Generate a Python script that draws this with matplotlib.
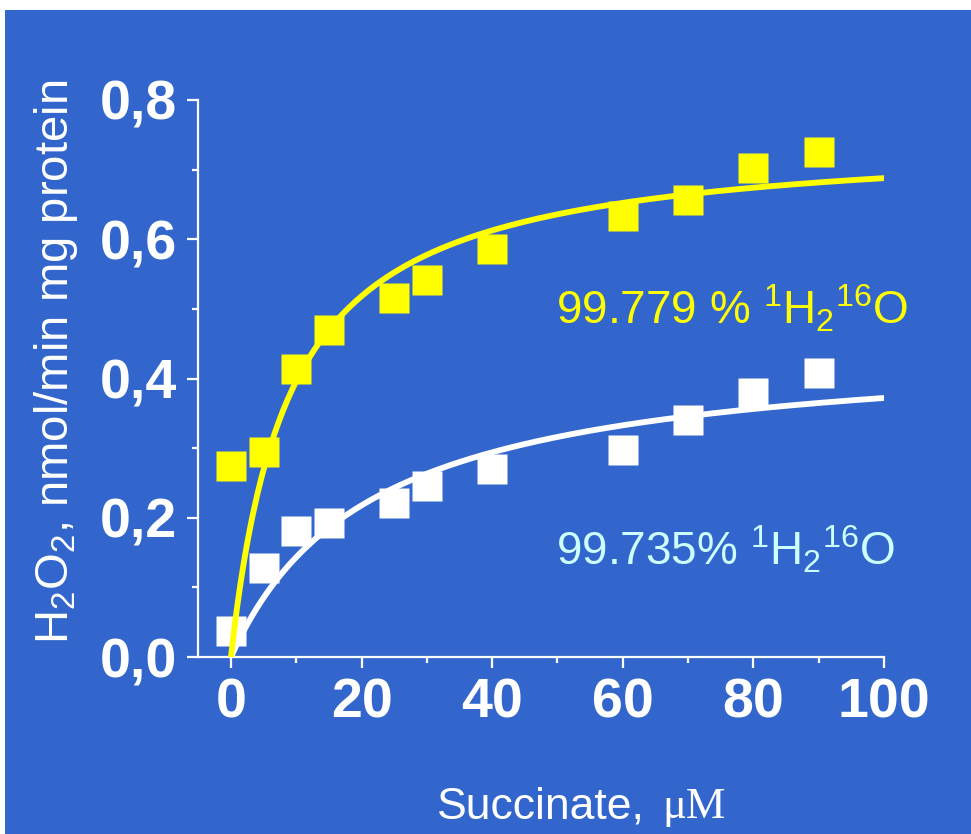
import numpy as np
import matplotlib
matplotlib.use("Agg")
import matplotlib.pyplot as plt
from matplotlib.patches import Rectangle

# Datos
succinate = [0, 5, 10, 15, 25, 30, 40, 60, 70, 80, 90]
h2o2_yellow = [0.275, 0.294, 0.414, 0.470, 0.516, 0.542, 0.586, 0.634, 0.656, 0.702, 0.725]
h2o2_white = [0.037, 0.128, 0.181, 0.193, 0.221, 0.246, 0.270, 0.297, 0.340, 0.379, 0.408]

# Parametros de ajuste Michaelis-Menten (Vmax, Km) estimados de las curvas
fit_yellow = (0.749, 8.9)
fit_white = (0.452, 21.5)

label_yellow = r"99.779 % $\mathregular{^{1}H_{2}{}^{16}O}$"
label_white = r"99.735% $\mathregular{^{1}H_{2}{}^{16}O}$"

BLUE = "#3366CC"
YELLOW = "#FFFF00"
CYAN = "#CCFFFF"

plt.rcParams["font.family"] = ["Liberation Sans", "DejaVu Sans"]
plt.rcParams["mathtext.fontset"] = "custom"
plt.rcParams["mathtext.rm"] = "Liberation Sans"

W, H = 971, 834
fig = plt.figure(figsize=(W / 100, H / 100), dpi=100, facecolor="white")

# Fondo azul con margen blanco arriba e izquierda
bg = Rectangle((5 / W, 0), 1, 1 - 10 / H, transform=fig.transFigure,
               facecolor=BLUE, edgecolor="none", zorder=-10)
fig.add_artist(bg)

ax = fig.add_axes([198 / W, 1 - 657 / H, (884 - 198) / W, (657 - 100) / H])
ax.set_facecolor("none")
ax.set_zorder(1)

x_fit = np.linspace(0, 100, 300)

def mm(x, vmax, km):
    return vmax * x / (km + x)

# Serie blanca
ax.plot(succinate, h2o2_white, "s", color="white", ms=21, mec="none", zorder=2)
ax.plot(x_fit, mm(x_fit, *fit_white), color="white", lw=4.2, zorder=3)

# Serie amarilla
ax.plot(succinate, h2o2_yellow, "s", color=YELLOW, ms=21, mec="none", zorder=4)
ax.plot(x_fit, mm(x_fit, *fit_yellow), color=YELLOW, lw=4.2, zorder=5)

ax.set_xlim(-5.05, 100)
ax.set_ylim(0, 0.8)

for s in ["top", "right"]:
    ax.spines[s].set_visible(False)
for s in ["left", "bottom"]:
    ax.spines[s].set_color("white")
    ax.spines[s].set_linewidth(1.6)

ax.set_xticks([0, 20, 40, 60, 80, 100])
ax.set_xticks([10, 30, 50, 70, 90], minor=True)
ax.set_yticks([0, 0.2, 0.4, 0.6, 0.8])
ax.set_yticklabels(["0,0", "0,2", "0,4", "0,6", "0,8"])
ax.set_yticks([0.1, 0.3, 0.5, 0.7], minor=True)

ax.tick_params(which="major", length=8, width=1.6, color="white", labelcolor="white",
               labelsize=40, pad=7)
ax.tick_params(which="minor", length=4, width=1.6, color="white")
for lab in ax.get_xticklabels() + ax.get_yticklabels():
    lab.set_fontweight("bold")

# Etiquetas de las series
ax.text(49.8, 0.477, label_yellow, color=YELLOW, fontsize=33, va="baseline")
ax.text(49.8, 0.132, label_white, color=CYAN, fontsize=33, va="baseline")

# Titulos de ejes
fig.text(56 / W, 1 - 362 / H, r"H$_2$O$_2$, nmol/min mg protein", color="white",
         fontsize=34, rotation=90, ha="center", va="center")
fig.text(645 / W, 1 - 818 / H, "Succinate,", color="white", fontsize=32,
         ha="right", va="baseline")
fig.text(662 / W, 1 - 818 / H, "μM", color="white", fontsize=32,
         family="Liberation Serif", ha="left", va="baseline")

fig.savefig("out.png", dpi=100, facecolor=fig.get_facecolor())
